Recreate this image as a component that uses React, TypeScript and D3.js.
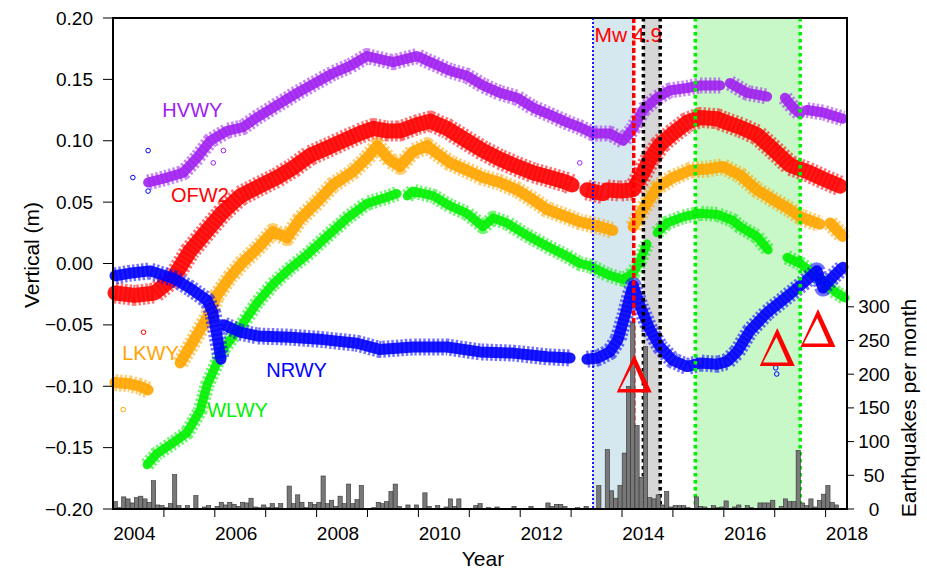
import React from "react";
import * as d3 from "d3";

// GPS vertical time series (decimal year, metres); null marks a data gap
const hvwyYears = [2004.27, 2004.64, 2004.96, 2005.23, 2005.49, 2005.82, 2006.13, 2006.41, 2006.8, 2007.2, 2007.59, 2007.9, 2008.24, 2008.57, 2008.77, 2009.08, 2009.55, 2009.87, 2010.2, 2010.53, 2010.85, 2011.18, 2011.52, 2011.83, 2012.17, 2012.5, 2012.75, 2013.01, 2013.34, 2013.6, 2013.8, 2013.99, 2014.27, 2014.52, 2014.86, 2015.11, 2015.51, 2015.6, 2015.7, 2016.04, 2016.43, 2016.6, 2016.78, 2016.94, 2017.08, 2017.15, 2017.21, 2017.53, 2017.92];
const hvwyVals = [0.066, 0.07, 0.074, 0.086, 0.1, 0.108, 0.111, 0.119, 0.129, 0.139, 0.148, 0.155, 0.161, 0.169, 0.167, 0.164, 0.169, 0.163, 0.157, 0.153, 0.145, 0.139, 0.135, 0.127, 0.121, 0.115, 0.111, 0.106, 0.106, 0.1, 0.11, 0.125, 0.135, 0.141, 0.143, 0.145, 0.145, null, 0.147, 0.139, 0.136, null, 0.135, 0.127, 0.122, null, 0.125, 0.123, 0.118];

const ofw2Years = [2003.62, 2004.0, 2004.4, 2004.76, 2005.09, 2005.43, 2005.74, 2006.08, 2006.41, 2006.8, 2007.12, 2007.45, 2007.78, 2008.1, 2008.43, 2008.69, 2008.96, 2009.22, 2009.55, 2009.81, 2010.14, 2010.53, 2010.85, 2011.18, 2011.52, 2011.83, 2012.17, 2012.5, 2012.6, 2012.75, 2012.89, 2013.09, 2013.21, 2013.25, 2013.29, 2013.55, 2013.8, 2013.94, 2014.13, 2014.33, 2014.58, 2014.86, 2015.11, 2015.45, 2015.56, 2015.9, 2016.23, 2016.55, 2016.88, 2017.21, 2017.53, 2017.87];
const ofw2Vals = [-0.024, -0.026, -0.024, -0.012, 0.01, 0.027, 0.042, 0.055, 0.062, 0.07, 0.078, 0.088, 0.094, 0.1, 0.106, 0.11, 0.108, 0.108, 0.113, 0.116, 0.11, 0.1, 0.092, 0.085, 0.079, 0.074, 0.07, 0.066, 0.064, null, 0.06, 0.058, 0.057, null, 0.06, 0.059, 0.06, 0.07, 0.085, 0.097, 0.106, 0.115, 0.119, 0.118, 0.116, 0.111, 0.105, 0.093, 0.08, 0.075, 0.069, 0.063];

const lkwyYears = [2003.62, 2003.9, 2004.1, 2004.27, 2004.6, 2004.9, 2005.09, 2005.29, 2005.49, 2005.62, 2005.88, 2006.13, 2006.41, 2006.72, 2007.0, 2007.25, 2007.59, 2007.9, 2008.3, 2008.57, 2008.77, 2009.02, 2009.22, 2009.47, 2009.75, 2009.87, 2010.2, 2010.53, 2010.85, 2011.18, 2011.52, 2011.83, 2012.11, 2012.5, 2012.75, 2013.15, 2013.4, 2013.6, 2013.8, 2013.99, 2014.27, 2014.58, 2014.92, 2015.25, 2015.56, 2015.9, 2016.23, 2016.55, 2016.88, 2017.08, 2017.41, 2017.47, 2017.57, 2017.67, 2017.92];
const lkwyVals = [-0.097, -0.098, -0.1, -0.103, null, -0.081, -0.068, -0.054, -0.04, -0.026, -0.011, 0.001, 0.012, 0.026, 0.021, 0.036, 0.05, 0.064, 0.075, 0.086, 0.096, 0.084, 0.079, 0.091, 0.096, 0.092, 0.082, 0.076, 0.07, 0.066, 0.06, 0.052, 0.044, 0.038, 0.034, 0.03, 0.027, null, 0.03, 0.044, 0.062, 0.07, 0.076, 0.077, 0.079, 0.072, 0.06, 0.052, 0.044, 0.038, 0.033, 0.032, null, 0.033, 0.022];

const wlwyYears = [2004.25, 2004.44, 2004.76, 2005.03, 2005.29, 2005.43, 2005.74, 2006.08, 2006.41, 2006.72, 2007.06, 2007.39, 2007.78, 2008.18, 2008.57, 2008.96, 2009.16, 2009.26, 2009.36, 2009.47, 2009.87, 2010.2, 2010.53, 2010.85, 2011.05, 2011.32, 2011.71, 2012.11, 2012.5, 2012.75, 2012.95, 2013.29, 2013.6, 2013.8, 2013.94, 2014.07, 2014.17, 2014.27, 2014.46, 2014.78, 2015.11, 2015.45, 2015.76, 2015.9, 2016.23, 2016.45, 2016.6, 2016.82, 2017.08, 2017.27, 2017.53, 2017.8, 2017.96];
const wlwyVals = [-0.164, -0.155, -0.146, -0.138, -0.12, -0.099, -0.07, -0.052, -0.032, -0.017, -0.004, 0.007, 0.022, 0.037, 0.049, 0.054, 0.057, null, 0.055, 0.059, 0.055, 0.047, 0.041, 0.03, 0.037, 0.033, 0.023, 0.014, 0.006, 0.0, -0.002, -0.009, -0.013, -0.008, 0.003, 0.016, null, 0.025, 0.033, 0.038, 0.041, 0.04, 0.035, 0.03, 0.022, 0.011, null, 0.005, 0.0, -0.006, -0.015, -0.024, -0.028];

const nrwyYears = [2003.62, 2003.9, 2004.31, 2004.76, 2005.09, 2005.43, 2005.54, 2005.62, 2005.7, 2005.73, 2005.76, 2006.08, 2006.41, 2007.06, 2007.71, 2008.37, 2008.82, 2009.47, 2010.14, 2010.79, 2011.44, 2012.11, 2012.56, 2012.7, 2012.89, 2013.1, 2013.34, 2013.5, 2013.64, 2013.74, 2013.8, 2013.94, 2014.13, 2014.33, 2014.58, 2014.86, 2015.11, 2015.45, 2015.64, 2015.84, 2016.09, 2016.43, 2016.82, 2017.14, 2017.41, 2017.53, 2017.72, 2017.92];
const nrwyVals = [-0.01, -0.008, -0.006, -0.012, -0.02, -0.03, -0.04, -0.058, -0.078, null, -0.05, -0.056, -0.059, -0.06, -0.062, -0.065, -0.07, -0.068, -0.068, -0.072, -0.073, -0.076, -0.077, null, -0.078, -0.077, -0.072, -0.062, -0.042, -0.026, -0.018, -0.035, -0.054, -0.068, -0.079, -0.084, -0.081, -0.082, -0.08, -0.072, -0.055, -0.04, -0.027, -0.016, -0.006, -0.02, -0.011, -0.003];

// isolated outlier epochs
const outlierYears = [2003.97, 2004.27, 2004.27, 2004.18, 2005.75, 2005.55, 2003.78, 2016.6, 2016.62, 2012.75];
const outlierVals = [0.07, 0.092, 0.059, -0.056, 0.092, 0.082, -0.119, -0.085, -0.09, 0.082];
const outlierStation = ["NRWY", "NRWY", "NRWY", "OFW2", "HVWY", "HVWY", "LKWY", "NRWY", "NRWY", "HVWY"];

// earthquakes per month, starting Aug 2003
const eqStart = 2003 + 7 / 12;
const eqCounts = [
  11, 2, 18, 15, 9, 17, 19, 15, 10, 42, 6, 5, 2, 8, 51, 5, 1, 5, 1, 20,
  1, 3, 5, 1, 4, 10, 6, 10, 7, 4, 10, 9, 16, 3, 2, 6, 2, 8, 2, 8,
  1, 34, 8, 21, 10, 2, 10, 7, 10, 49, 8, 13, 4, 19, 8, 37, 8, 14, 35, 1,
  1, 2, 10, 8, 11, 26, 37, 4, 1, 6, 1, 6, 1, 24, 4, 1, 5, 1, 3, 15,
  4, 15, 1, 0, 1, 5, 8, 1, 2, 1, 3, 0, 0, 0, 4, 0, 0, 1, 4, 0,
  0, 1, 9, 4, 7, 7, 4, 0, 1, 2, 1, 4, 0, 0, 35, 0, 88, 27, 16, 35,
  83, 182, 276, 124, 47, 241, 17, 15, 21, 6, 26, 3, 5, 5, 5, 2, 1, 18, 4, 3,
  1, 5, 2, 3, 12, 1, 3, 6, 1, 5, 2, 1, 9, 9, 9, 13, 1, 4, 15, 11,
  11, 87, 9, 5, 15, 3, 13, 22, 35, 10, 6, 1, 0,
];

const leftTicks = [-0.2, -0.15, -0.1, -0.05, 0, 0.05, 0.1, 0.15, 0.2];
const rightTicks = [0, 50, 100, 150, 200, 250, 300];
const yearLabels = [2004, 2006, 2008, 2010, 2012, 2014, 2016, 2018];
const yearTicks = [2004.58, 2005.58, 2006.58, 2007.58, 2008.58, 2009.58, 2010.58, 2011.58, 2012.58, 2013.58, 2014.58, 2015.58, 2016.58, 2017.58];

// event markers (decimal year)
const blueLine = 2013.01;
const mainshock = 2013.81;
const blackLines = [2014.0, 2014.33];
const greenLines = [2015.02, 2017.08];
const triYears = [2013.82, 2016.63, 2017.43];
const triBase = [-0.105, -0.0835, -0.068];

const stations = [
  { name: "HVWY", years: hvwyYears, vals: hvwyVals, color: "#A020F0", w: 10, lx: 2004.55, ly: 0.125 },
  { name: "OFW2", years: ofw2Years, vals: ofw2Vals, color: "#FF0000", w: 15, lx: 2004.72, ly: 0.056 },
  { name: "LKWY", years: lkwyYears, vals: lkwyVals, color: "#FFA500", w: 11, lx: 2003.76, ly: -0.073 },
  { name: "WLWY", years: wlwyYears, vals: wlwyVals, color: "#00F000", w: 9, lx: 2005.43, ly: -0.119 },
  { name: "NRWY", years: nrwyYears, vals: nrwyVals, color: "#0000FF", w: 11, lx: 2006.59, ly: -0.087 },
];

const W = 927;
const H = 571;
const L = 113, R = 847, T = 18, B = 509;
const font = "'Liberation Sans', Arial, sans-serif";

export default function App() {
  const x = d3.scaleLinear().domain([2003.58, 2018]).range([L, R]);
  const y = d3.scaleLinear().domain([-0.2, 0.2]).range([B, T]);
  const y2 = d3.scaleLinear().domain([0, 728.5]).range([B, T]);

  const line = d3
    .line<[number, number | null]>()
    .defined((d) => d[1] != null)
    .x((d) => x(d[0]))
    .y((d) => y(d[1] as number));

  const colorOf = (n: string) => stations.find((s) => s.name === n)!.color;

  const tri = (cx: number, by: number) =>
    `M${cx},${by - 38}L${cx + 17.5},${by}L${cx - 17.5},${by}Z` +
    `M${cx - 0.8},${by - 29}L${cx - 14.2},${by - 3.5}L${cx + 10.5},${by - 3.5}Z`;

  return (
    <svg width={W} height={H} style={{ position: "absolute", left: 0, top: 0 }} fontFamily={font}>
      <rect width={W} height={H} fill="#fff" />
      {/* shaded periods */}
      <rect x={x(blueLine)} y={T} width={x(mainshock) - x(blueLine)} height={B - T} fill="#d5e8f0" />
      <rect x={x(blackLines[0])} y={T} width={x(blackLines[1]) - x(blackLines[0])} height={B - T} fill="#d6d6d6" />
      <rect x={x(greenLines[0])} y={T} width={x(greenLines[1]) - x(greenLines[0])} height={B - T} fill="#c8f8c8" />

      {/* station bands: speckled halo + dense core */}
      {stations.map((s) => {
        const d = line(s.years.map((yr, i) => [yr, s.vals[i]]) as [number, number | null][]) || "";
        return (
          <g key={s.name}>
            <path d={d} fill="none" stroke={s.color} strokeWidth={s.w + 6} strokeLinejoin="round"
              strokeDasharray="2.5,2" strokeOpacity={0.55} />
            <path d={d} fill="none" stroke={s.color} strokeWidth={s.w} strokeLinejoin="round"
              strokeLinecap="round" strokeOpacity={0.9} />
          </g>
        );
      })}
      {outlierYears.map((yr, i) => (
        <circle key={i} cx={x(yr)} cy={y(outlierVals[i])} r={2.3} fill="none" stroke={colorOf(outlierStation[i])} strokeWidth={1} />
      ))}

      {/* station labels */}
      {stations.map((s) => (
        <text key={s.name} x={x(s.lx)} y={y(s.ly)} fill={s.color} fontSize={20} dominantBaseline="central">
          {s.name}
        </text>
      ))}

      <text x={x(2013.04)} y={y(0.1804)} fill="#FF0000" fontSize={21}>Mw 4.9</text>

      {/* event lines */}
      <line x1={x(blueLine)} x2={x(blueLine)} y1={T} y2={B} stroke="#0000FF" strokeWidth={1.8} strokeDasharray="2,2" />
      <line x1={x(mainshock)} x2={x(mainshock)} y1={T} y2={B} stroke="#FF0000" strokeWidth={3.5} strokeDasharray="5,2.5" />
      {blackLines.map((v) => (
        <line key={v} x1={x(v)} x2={x(v)} y1={T} y2={B} stroke="#000" strokeWidth={3.5} strokeDasharray="3.5,3.5" />
      ))}
      {greenLines.map((v) => (
        <line key={v} x1={x(v)} x2={x(v)} y1={T} y2={B} stroke="#00F000" strokeWidth={3.5} strokeDasharray="3.5,3.5" />
      ))}

      {/* earthquake histogram */}
      {eqCounts.map((c, i) =>
        c > 0 ? (
          <rect
            key={i}
            x={x(eqStart + i / 12)}
            y={y2(c)}
            width={x(eqStart + (i + 1) / 12) - x(eqStart + i / 12)}
            height={B - y2(c)}
            fill="#787878"
            stroke="#333"
            strokeWidth={0.6}
          />
        ) : null
      )}

      {/* triangles */}
      {triYears.map((yr, i) => (
        <path key={i} d={tri(x(yr), y(triBase[i]))} fill="#FF0000" fillRule="evenodd" />
      ))}

      {/* frame */}
      <rect x={L} y={T} width={R - L} height={B - T} fill="none" stroke="#000" strokeWidth={2} />

      {/* left axis */}
      {leftTicks.map((t) => (
        <g key={t}>
          <line x1={L - 10} x2={L} y1={y(t)} y2={y(t)} stroke="#000" strokeWidth={1} />
          <text x={93} y={y(t)} textAnchor="end" dominantBaseline="central" fontSize={19}>
            {t < 0 ? "\u2212" + Math.abs(t).toFixed(2) : t.toFixed(2)}
          </text>
        </g>
      ))}
      {/* right axis */}
      {rightTicks.map((t) => (
        <g key={t}>
          <line x1={R} x2={R + 7} y1={y2(t)} y2={y2(t)} stroke="#000" strokeWidth={1} />
          <text x={874} y={y2(t)} textAnchor="middle" dominantBaseline="central" fontSize={19}>
            {t}
          </text>
        </g>
      ))}
      {/* bottom axis */}
      {yearTicks.map((t) => (
        <line key={t} x1={x(t)} x2={x(t)} y1={B} y2={B + 8} stroke="#000" strokeWidth={1} />
      ))}
      {yearLabels.map((t) => (
        <text key={t} x={x(t)} y={540} textAnchor="middle" fontSize={19}>
          {t}
        </text>
      ))}

      <text x={483} y={566} textAnchor="middle" fontSize={21}>Year</text>
      <text transform="translate(31,255) rotate(-90)" textAnchor="middle" dominantBaseline="central" fontSize={21}>
        Vertical (m)
      </text>
      <text transform="translate(908,408) rotate(-90)" textAnchor="middle" dominantBaseline="central" fontSize={21}>
        Earthquakes per month
      </text>
    </svg>
  );
}
